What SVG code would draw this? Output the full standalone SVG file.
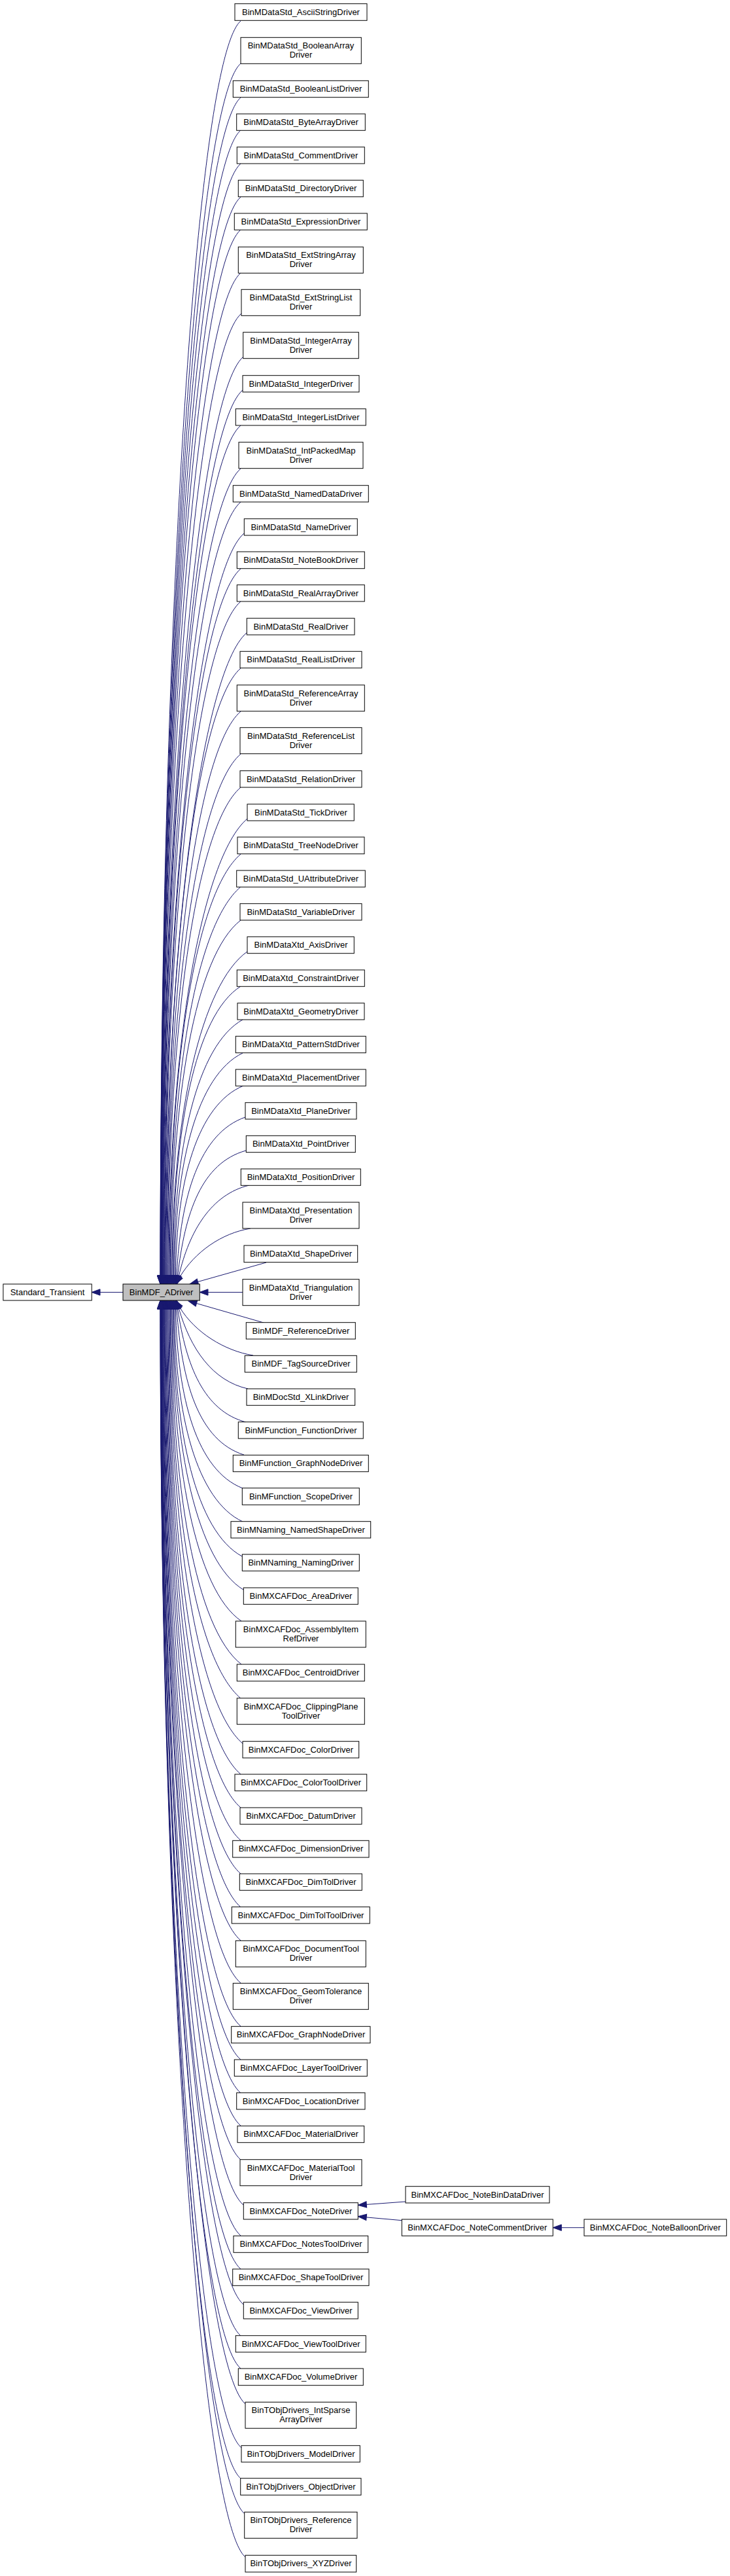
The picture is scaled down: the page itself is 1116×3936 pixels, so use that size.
<svg xmlns="http://www.w3.org/2000/svg" width="1116" height="3936" viewBox="0 0 1116 3936">
<style>
rect{fill:#fff;stroke:#000;stroke-width:1}
rect.g{fill:#bfbfbf}
text{font-family:"Liberation Sans",Arial,Helvetica,sans-serif;font-size:13px;fill:#000;text-anchor:middle}
#edges path{fill:none;stroke:#191970;stroke-width:1;marker-end:url(#arr)}
</style>
<defs>
<marker id="arr" markerUnits="userSpaceOnUse" markerWidth="16" markerHeight="12" viewBox="0 0 16 12" refX="1" refY="6" orient="auto" overflow="visible">
<path d="M1,1.3 L14,6 L1,10.7 z" fill="#191970" stroke="#191970" stroke-width="1"/>
</marker>
</defs>
<rect x="0" y="0" width="1116" height="3936" style="fill:#fff;stroke:none"/>
<g id="edges">
<path d="M188,1974.5 L153,1974.5"/>
<path d="M368,32 C298,92 245,990.5 245,1949"/>
<path d="M368,97 C298,157 245.1,1023 245.1,1949"/>
<path d="M368,149 C298,209 245.2,1049 245.2,1949"/>
<path d="M368,199 C298,259 245.4,1074 245.4,1949"/>
<path d="M368,250 C298,310 245.6,1099.5 245.6,1949"/>
<path d="M368,301 C298,361 245.9,1125 245.9,1949"/>
<path d="M368,351 C298,411 246.2,1150 246.2,1949"/>
<path d="M368,417 C298,477 246.6,1183 246.6,1949"/>
<path d="M369,479 C299,539 247,1214 247,1949"/>
<path d="M372,545 C302,605 247.4,1247 247.4,1949"/>
<path d="M371,596 C301,656 248,1272.5 248,1949"/>
<path d="M368,650 C298,710 248.5,1299.5 248.5,1949"/>
<path d="M368,716 C298,776 249.1,1332.5 249.1,1949"/>
<path d="M368,767 C298,827 249.8,1358 249.8,1949"/>
<path d="M373,815 C303,875 250.5,1382 250.5,1949"/>
<path d="M368,869 C298,929 251.3,1409 251.3,1949"/>
<path d="M368,919 C298,979 252.1,1434 252.1,1949"/>
<path d="M377,967 C307,1027 252.9,1458 252.9,1949"/>
<path d="M368,1021 C298,1081 253.8,1485 253.8,1949"/>
<path d="M368,1087 C298,1147 254.8,1518 254.8,1949"/>
<path d="M368,1152 C298,1212 255.8,1550.5 255.8,1949"/>
<path d="M368,1203 C298,1263 256.9,1576 256.9,1949"/>
<path d="M378,1251 C308,1311 258,1600 258,1949"/>
<path d="M368,1305 C298,1365 259.1,1627 259.1,1949"/>
<path d="M368,1355 C298,1414.4 260.3,1652 260.3,1949"/>
<path d="M368,1406 C298,1460.3 261.6,1677.5 261.6,1949"/>
<path d="M378,1454 C308,1503.5 262.9,1701.5 262.9,1949"/>
<path d="M368,1507 C298,1551.2 264.2,1728 264.2,1949"/>
<path d="M371,1558 C301,1597.1 265.6,1753.5 265.6,1949"/>
<path d="M371,1609 C301,1643 267,1779 267,1949"/>
<path d="M372,1659 C302,1688 269.5,1804 268.5,1949"/>
<path d="M375,1707 C305,1731.2 275.9,1828 270.1,1949"/>
<path d="M376,1758 C307.8,1777.1 282.6,1853.5 271.7,1949"/>
<path d="M381,1811 C323.4,1824.8 289.5,1880 273.3,1950"/>
<path d="M383,1877 C338.6,1884.2 297.8,1913 275,1951"/>
<path d="M407,1929 L302.5,1958.5"/>
<path d="M371,1974.5 L318,1974.5"/>
<path d="M403,2021 L300.5,1991.5"/>
<path d="M387,2071 C342.8,2063.9 297.9,2035.5 275,1998"/>
<path d="M379,2122 C324.6,2109.8 291.1,2061 273.3,1999"/>
<path d="M376,2173 C311.4,2155.7 284.4,2086.5 271.7,2000"/>
<path d="M373,2223 C303,2200.7 277.8,2111.5 270.1,2000"/>
<path d="M371,2274 C301,2246.6 271.1,2137 268.5,2000"/>
<path d="M371,2325 C301,2292.5 267,2162.5 267,2000"/>
<path d="M370,2378 C300,2340.2 265.6,2189 265.6,2000"/>
<path d="M372,2429 C302,2386.1 264.2,2214.5 264.2,2000"/>
<path d="M369,2477 C299,2429.3 262.9,2238.5 262.9,2000"/>
<path d="M369,2543 C299,2488.7 261.6,2271.5 261.6,2000"/>
<path d="M368,2595 C298,2535.5 260.3,2297.5 260.3,2000"/>
<path d="M371,2664 C301,2604 259.1,2332 259.1,2000"/>
<path d="M368,2711 C298,2651 258,2355.5 258,2000"/>
<path d="M368,2762 C298,2702 256.9,2381 256.9,2000"/>
<path d="M368,2812 C298,2752 255.8,2406 255.8,2000"/>
<path d="M368,2863 C298,2803 254.8,2431.5 254.8,2000"/>
<path d="M368,2914 C298,2854 253.8,2457 253.8,2000"/>
<path d="M368,2965 C298,2905 252.9,2482.5 252.9,2000"/>
<path d="M368,3030 C298,2970 252.1,2515 252.1,2000"/>
<path d="M368,3096 C298,3036 251.3,2548 251.3,2000"/>
<path d="M368,3147 C298,3087 250.5,2573.5 250.5,2000"/>
<path d="M368,3198 C298,3138 249.8,2599 249.8,2000"/>
<path d="M368,3248 C298,3188 249.1,2624 249.1,2000"/>
<path d="M368,3300 C298,3240 248.5,2650 248.5,2000"/>
<path d="M372,3369 C302,3309 248,2684.5 248,2000"/>
<path d="M368,3416 C298,3356 247.4,2708 247.4,2000"/>
<path d="M368,3467 C298,3407 247,2733.5 247,2000"/>
<path d="M372,3521 C302,3461 246.6,2760.5 246.6,2000"/>
<path d="M368,3569 C298,3509 246.2,2784.5 246.2,2000"/>
<path d="M368,3619 C298,3559 245.9,2809.5 245.9,2000"/>
<path d="M375,3673 C305,3613 245.6,2836.5 245.6,2000"/>
<path d="M369,3740 C299,3680 245.4,2870 245.4,2000"/>
<path d="M368,3787 C298,3727 245.2,2893.5 245.2,2000"/>
<path d="M374,3841 C304,3781 245.1,2920.5 245.1,2000"/>
<path d="M375,3907 C305,3847 245,2953.5 245,2000"/>
<path d="M620,3364 L560.3,3368.4"/>
<path d="M614.3,3392.7 L560.2,3387.9"/>
<path d="M893,3403.7 L858.3,3403.7"/>
</g>
<g id="Standard_Transient"><rect x="4.9" y="1962" width="135.3" height="25"/><text x="72.5" y="1979">Standard_Transient</text></g>
<g id="BinMDF_ADriver"><rect class="g" x="188" y="1962" width="117.3" height="25"/><text x="246.6" y="1979">BinMDF_ADriver</text></g>
<g id="n1"><rect x="359" y="5.7" width="202" height="25.6"/><text x="460" y="22.5">BinMDataStd_AsciiStringDriver</text></g>
<g id="n2"><rect x="368" y="57.3" width="184.3" height="40"/><text x="460" y="74.3">BinMDataStd_BooleanArray</text><text x="460" y="88.3">Driver</text></g>
<g id="n3"><rect x="356.3" y="123.3" width="207" height="25.4"/><text x="460" y="140.1">BinMDataStd_BooleanListDriver</text></g>
<g id="n4"><rect x="361.7" y="174" width="196.6" height="25.3"/><text x="460" y="190.8">BinMDataStd_ByteArrayDriver</text></g>
<g id="n5"><rect x="362.3" y="224.7" width="195" height="25.3"/><text x="460" y="241.5">BinMDataStd_CommentDriver</text></g>
<g id="n6"><rect x="364.3" y="275.3" width="191" height="25.4"/><text x="460" y="292.1">BinMDataStd_DirectoryDriver</text></g>
<g id="n7"><rect x="358.3" y="326" width="203" height="25.3"/><text x="460" y="342.8">BinMDataStd_ExpressionDriver</text></g>
<g id="n8"><rect x="364.3" y="377.3" width="191" height="40"/><text x="460" y="394.3">BinMDataStd_ExtStringArray</text><text x="460" y="408.3">Driver</text></g>
<g id="n9"><rect x="369" y="442.3" width="181.7" height="40"/><text x="460" y="459.3">BinMDataStd_ExtStringList</text><text x="460" y="473.3">Driver</text></g>
<g id="n10"><rect x="371.7" y="507.7" width="176.6" height="40"/><text x="460" y="524.7">BinMDataStd_IntegerArray</text><text x="460" y="538.7">Driver</text></g>
<g id="n11"><rect x="371" y="573.7" width="178" height="25.3"/><text x="460" y="590.5">BinMDataStd_IntegerDriver</text></g>
<g id="n12"><rect x="360.3" y="624.7" width="199" height="25.3"/><text x="460" y="641.5">BinMDataStd_IntegerListDriver</text></g>
<g id="n13"><rect x="365" y="675.7" width="190" height="40"/><text x="460" y="692.7">BinMDataStd_IntPackedMap</text><text x="460" y="706.7">Driver</text></g>
<g id="n14"><rect x="356.3" y="741.7" width="207" height="25.3"/><text x="460" y="758.5">BinMDataStd_NamedDataDriver</text></g>
<g id="n15"><rect x="373.3" y="792.7" width="173" height="25.3"/><text x="460" y="809.5">BinMDataStd_NameDriver</text></g>
<g id="n16"><rect x="362.3" y="843" width="195" height="25.7"/><text x="460" y="860">BinMDataStd_NoteBookDriver</text></g>
<g id="n17"><rect x="362.3" y="893.7" width="195" height="25.3"/><text x="460" y="910.5">BinMDataStd_RealArrayDriver</text></g>
<g id="n18"><rect x="377.3" y="944.7" width="164.7" height="25.3"/><text x="460" y="961.5">BinMDataStd_RealDriver</text></g>
<g id="n19"><rect x="367" y="995.3" width="186" height="25.4"/><text x="460" y="1012.1">BinMDataStd_RealListDriver</text></g>
<g id="n20"><rect x="362.3" y="1046.7" width="195" height="40"/><text x="460" y="1063.7">BinMDataStd_ReferenceArray</text><text x="460" y="1077.7">Driver</text></g>
<g id="n21"><rect x="367" y="1111.7" width="186" height="40"/><text x="460" y="1128.7">BinMDataStd_ReferenceList</text><text x="460" y="1142.7">Driver</text></g>
<g id="n22"><rect x="367" y="1177.7" width="186" height="25.3"/><text x="460" y="1194.5">BinMDataStd_RelationDriver</text></g>
<g id="n23"><rect x="378" y="1228.7" width="163.3" height="25.3"/><text x="460" y="1245.5">BinMDataStd_TickDriver</text></g>
<g id="n24"><rect x="363" y="1279" width="194" height="25.7"/><text x="460" y="1296">BinMDataStd_TreeNodeDriver</text></g>
<g id="n25"><rect x="361.7" y="1330" width="196.6" height="25.3"/><text x="460" y="1346.8">BinMDataStd_UAttributeDriver</text></g>
<g id="n26"><rect x="367" y="1380.7" width="186" height="25.3"/><text x="460" y="1397.5">BinMDataStd_VariableDriver</text></g>
<g id="n27"><rect x="378" y="1431.3" width="163.3" height="25.4"/><text x="460" y="1448.1">BinMDataXtd_AxisDriver</text></g>
<g id="n28"><rect x="362.3" y="1482" width="195" height="25.3"/><text x="460" y="1498.8">BinMDataXtd_ConstraintDriver</text></g>
<g id="n29"><rect x="363" y="1532.7" width="194" height="25.3"/><text x="460" y="1549.5">BinMDataXtd_GeometryDriver</text></g>
<g id="n30"><rect x="360.3" y="1583.3" width="199" height="25.4"/><text x="460" y="1600.1">BinMDataXtd_PatternStdDriver</text></g>
<g id="n31"><rect x="360.3" y="1634" width="199" height="25.3"/><text x="460" y="1650.8">BinMDataXtd_PlacementDriver</text></g>
<g id="n32"><rect x="375" y="1684.7" width="170" height="25.3"/><text x="460" y="1701.5">BinMDataXtd_PlaneDriver</text></g>
<g id="n33"><rect x="376.3" y="1735.3" width="167" height="25.4"/><text x="460" y="1752.1">BinMDataXtd_PointDriver</text></g>
<g id="n34"><rect x="368.3" y="1786" width="183" height="25.3"/><text x="460" y="1802.8">BinMDataXtd_PositionDriver</text></g>
<g id="n35"><rect x="371" y="1837" width="178" height="40"/><text x="460" y="1854">BinMDataXtd_Presentation</text><text x="460" y="1868">Driver</text></g>
<g id="n36"><rect x="373" y="1903" width="173.7" height="25.7"/><text x="460" y="1920">BinMDataXtd_ShapeDriver</text></g>
<g id="n37"><rect x="371" y="1954.7" width="178" height="40"/><text x="460" y="1971.7">BinMDataXtd_Triangulation</text><text x="460" y="1985.7">Driver</text></g>
<g id="n38"><rect x="376.3" y="2020.7" width="167" height="25.3"/><text x="460" y="2037.5">BinMDF_ReferenceDriver</text></g>
<g id="n39"><rect x="374.3" y="2071.3" width="171" height="25.4"/><text x="460" y="2088.1">BinMDF_TagSourceDriver</text></g>
<g id="n40"><rect x="377" y="2122" width="165.7" height="25.3"/><text x="460" y="2138.8">BinMDocStd_XLinkDriver</text></g>
<g id="n41"><rect x="364.3" y="2172.7" width="191" height="25.3"/><text x="460" y="2189.5">BinMFunction_FunctionDriver</text></g>
<g id="n42"><rect x="356.3" y="2223.3" width="207" height="25.4"/><text x="460" y="2240.1">BinMFunction_GraphNodeDriver</text></g>
<g id="n43"><rect x="370.3" y="2273.7" width="179" height="25.6"/><text x="460" y="2290.5">BinMFunction_ScopeDriver</text></g>
<g id="n44"><rect x="353" y="2324.7" width="213.7" height="25.3"/><text x="460" y="2341.5">BinMNaming_NamedShapeDriver</text></g>
<g id="n45"><rect x="370.3" y="2375" width="179" height="25.3"/><text x="460" y="2391.8">BinMNaming_NamingDriver</text></g>
<g id="n46"><rect x="372.3" y="2426" width="175" height="25.3"/><text x="460" y="2442.8">BinMXCAFDoc_AreaDriver</text></g>
<g id="n47"><rect x="360.3" y="2477" width="199" height="40"/><text x="460" y="2494">BinMXCAFDoc_AssemblyItem</text><text x="460" y="2508">RefDriver</text></g>
<g id="n48"><rect x="362.3" y="2543" width="195" height="25.7"/><text x="460" y="2560">BinMXCAFDoc_CentroidDriver</text></g>
<g id="n49"><rect x="362.3" y="2594.7" width="195" height="40"/><text x="460" y="2611.7">BinMXCAFDoc_ClippingPlane</text><text x="460" y="2625.7">ToolDriver</text></g>
<g id="n50"><rect x="371" y="2660.7" width="177.7" height="25.3"/><text x="460" y="2677.5">BinMXCAFDoc_ColorDriver</text></g>
<g id="n51"><rect x="359" y="2711" width="201.7" height="25.3"/><text x="460" y="2727.8">BinMXCAFDoc_ColorToolDriver</text></g>
<g id="n52"><rect x="367" y="2762" width="186" height="25.3"/><text x="460" y="2778.8">BinMXCAFDoc_DatumDriver</text></g>
<g id="n53"><rect x="355.7" y="2812.3" width="208.3" height="25.7"/><text x="460" y="2829.3">BinMXCAFDoc_DimensionDriver</text></g>
<g id="n54"><rect x="366.3" y="2863" width="187" height="25.3"/><text x="460" y="2879.8">BinMXCAFDoc_DimTolDriver</text></g>
<g id="n55"><rect x="354.3" y="2913.7" width="211" height="25.3"/><text x="460" y="2930.5">BinMXCAFDoc_DimTolToolDriver</text></g>
<g id="n56"><rect x="360.3" y="2965.3" width="199" height="40"/><text x="460" y="2982.3">BinMXCAFDoc_DocumentTool</text><text x="460" y="2996.3">Driver</text></g>
<g id="n57"><rect x="356.3" y="3030.3" width="207" height="40"/><text x="460" y="3047.3">BinMXCAFDoc_GeomTolerance</text><text x="460" y="3061.3">Driver</text></g>
<g id="n58"><rect x="353.7" y="3096.3" width="212.3" height="25.4"/><text x="460" y="3113.1">BinMXCAFDoc_GraphNodeDriver</text></g>
<g id="n59"><rect x="358.3" y="3147" width="203" height="25.3"/><text x="460" y="3163.8">BinMXCAFDoc_LayerToolDriver</text></g>
<g id="n60"><rect x="361.7" y="3197.7" width="196.3" height="25.3"/><text x="460" y="3214.5">BinMXCAFDoc_LocationDriver</text></g>
<g id="n61"><rect x="363" y="3248.3" width="193.7" height="25.4"/><text x="460" y="3265.1">BinMXCAFDoc_MaterialDriver</text></g>
<g id="n62"><rect x="367" y="3299.7" width="186" height="40"/><text x="460" y="3316.7">BinMXCAFDoc_MaterialTool</text><text x="460" y="3330.7">Driver</text></g>
<g id="n63"><rect x="372.3" y="3365.7" width="175" height="25.3"/><text x="460" y="3382.5">BinMXCAFDoc_NoteDriver</text></g>
<g id="n64"><rect x="357" y="3416.3" width="205.7" height="25.4"/><text x="460" y="3433.1">BinMXCAFDoc_NotesToolDriver</text></g>
<g id="n65"><rect x="355.7" y="3467" width="208.3" height="25.3"/><text x="460" y="3483.8">BinMXCAFDoc_ShapeToolDriver</text></g>
<g id="n66"><rect x="372.3" y="3517.7" width="175" height="25.3"/><text x="460" y="3534.5">BinMXCAFDoc_ViewDriver</text></g>
<g id="n67"><rect x="360.3" y="3568.7" width="199" height="25.3"/><text x="460" y="3585.5">BinMXCAFDoc_ViewToolDriver</text></g>
<g id="n68"><rect x="364.3" y="3619" width="191" height="25.7"/><text x="460" y="3636">BinMXCAFDoc_VolumeDriver</text></g>
<g id="n69"><rect x="375" y="3670.3" width="169.7" height="40"/><text x="460" y="3687.3">BinTObjDrivers_IntSparse</text><text x="460" y="3701.3">ArrayDriver</text></g>
<g id="n70"><rect x="369" y="3736.7" width="181.3" height="25.3"/><text x="460" y="3753.5">BinTObjDrivers_ModelDriver</text></g>
<g id="n71"><rect x="367.7" y="3786.7" width="184.3" height="25.6"/><text x="460" y="3803.5">BinTObjDrivers_ObjectDriver</text></g>
<g id="n72"><rect x="373.7" y="3838.3" width="172.3" height="40"/><text x="460" y="3855.3">BinTObjDrivers_Reference</text><text x="460" y="3869.3">Driver</text></g>
<g id="n73"><rect x="375" y="3904.3" width="169.7" height="25.7"/><text x="460" y="3921.3">BinTObjDrivers_XYZDriver</text></g>
<g id="BinMXCAFDoc_NoteBinDataDriver"><rect x="620" y="3340.7" width="220" height="25.3"/><text x="730" y="3357.5">BinMXCAFDoc_NoteBinDataDriver</text></g>
<g id="BinMXCAFDoc_NoteCommentDriver"><rect x="614.3" y="3391" width="231" height="25.3"/><text x="729.8" y="3407.8">BinMXCAFDoc_NoteCommentDriver</text></g>
<g id="BinMXCAFDoc_NoteBalloonDriver"><rect x="893" y="3391" width="217.7" height="25.3"/><text x="1001.8" y="3407.8">BinMXCAFDoc_NoteBalloonDriver</text></g>
</svg>
